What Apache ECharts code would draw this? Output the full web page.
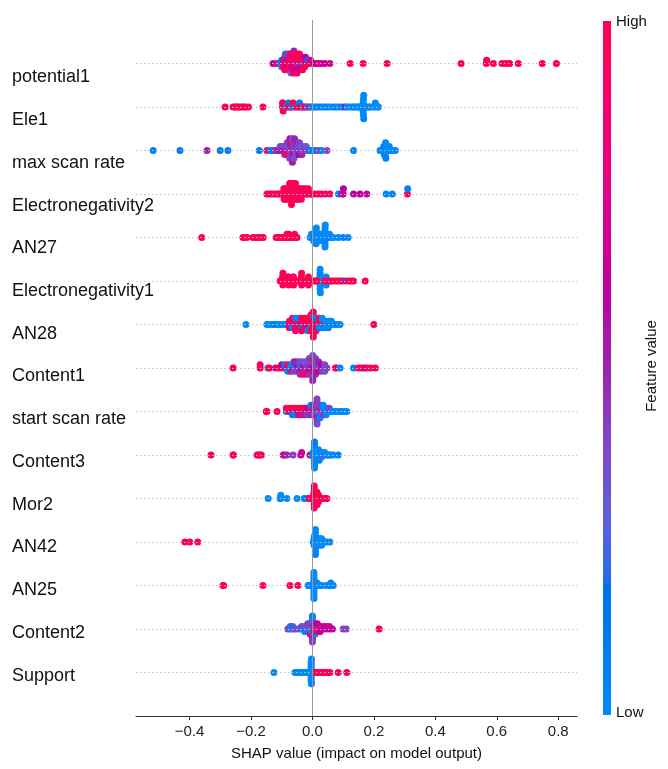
<!DOCTYPE html>
<html>
<head>
<meta charset="utf-8">
<script src="https://cdn.jsdelivr.net/npm/echarts@6/dist/echarts.min.js"></script>
<style>
  html, body { margin: 0; padding: 0; background: #fff; }
  #chart { width: 668px; height: 769px; }
</style>
</head>
<body>
<div id="chart"></div>
<script>
// Feature names, most important first
const featureNames = ['potential1', 'Ele1', 'max scan rate', 'Electronegativity2', 'AN27',
  'Electronegativity1', 'AN28', 'Content1', 'start scan rate', 'Content3', 'Mor2', 'AN42',
  'AN25', 'Content2', 'Support'];

// x-axis tick values
const tickValues = [-0.4, -0.2, 0.0, 0.2, 0.4, 0.6, 0.8];

// Per-feature samples: [SHAP value, normalised feature value]
const potential1 = [
  [-0.128,0.6],[-0.115,0.8],[-0.105,0.05],[-0.104,0],[-0.1,0.1],[-0.1,0.3],
  [-0.095,0.9],[-0.095,0.7],[-0.093,1],[-0.09,0.5],[-0.09,0.95],[-0.088,0.2],
  [-0.085,1],[-0.084,0.8],[-0.083,0.6],[-0.082,1],[-0.08,0.9],[-0.079,0.4],
  [-0.077,1],[-0.076,0.7],[-0.075,0.95],[-0.074,0.5],[-0.073,1],[-0.072,0.85],
  [-0.07,0.3],[-0.068,1],[-0.067,0.9],[-0.066,0.6],[-0.065,1],[-0.064,0.75],
  [-0.062,1],[-0.061,0.95],[-0.06,0.5],[-0.058,1],[-0.057,0.8],[-0.056,0.9],
  [-0.055,1],[-0.053,0.65],[-0.052,1],[-0.05,0.9],[-0.049,0.4],[-0.048,1],
  [-0.046,0.85],[-0.045,1],[-0.043,0.7],[-0.042,0.95],[-0.04,0.1],[-0.038,1],
  [-0.036,0.6],[-0.034,0.9],[-0.032,1],[-0.03,0.45],[-0.028,0.8],[-0.025,1],
  [-0.022,0.6],[-0.018,0.9],[-0.014,0.15],[-0.01,1],[-0.006,0.7],
  [0.003,0.7],[0.012,0.6],[0.02,0.8],[0.028,0.7],[0.04,0.65],[0.057,0.7],
  [0.123,1],[0.165,1],[0.243,1],[0.484,1],[0.566,1],[0.567,1],[0.589,1],
  [0.617,1],[0.63,1],[0.642,1],[0.67,1],[0.748,1],[0.794,1]
];
const ele1 = [
  [-0.284,1],[-0.258,1],[-0.252,1],[-0.247,0.95],[-0.242,1],[-0.236,1],[-0.23,0.9],
  [-0.224,1],[-0.218,1],[-0.208,1],[-0.161,1],
  [-0.097,1],[-0.097,1],[-0.096,0.9],[-0.096,1],[-0.095,1],
  [-0.085,0.05],[-0.08,1],[-0.077,0.1],[-0.073,1],[-0.07,0.9],[-0.066,0],[-0.063,1],
  [-0.058,1],[-0.055,0.05],[-0.05,1],[-0.046,0.95],[-0.042,0.1],[-0.038,1],[-0.033,1],
  [-0.03,0],[-0.025,1],[-0.02,0.9],[-0.015,0.05],[-0.01,1],[-0.005,0.1],
  [0.003,0],[0.01,0.05],[0.017,0],[0.025,0.1],[0.033,0],[0.04,0],[0.048,0.05],[0.055,0],
  [0.065,0],[0.073,0.1],[0.08,0],[0.09,0],[0.098,0.05],[0.107,0.6],[0.112,0],[0.12,0],
  [0.128,0],[0.134,0.05],
  [0.14,0],[0.145,0],[0.15,0],[0.155,0.05],[0.16,0],[0.164,0],[0.165,0],[0.165,0.05],
  [0.166,0],[0.166,0],[0.167,0],[0.167,0.05],[0.175,0],[0.18,0],[0.185,0.05],[0.19,0],
  [0.2,0],[0.205,0],[0.205,0],[0.212,0],[0.215,0]
];
const maxScanRate = [
  [-0.518,0.05],[-0.431,0.1],[-0.343,0.5],[-0.3,0.1],[-0.275,0.1],[-0.173,0.1],
  [-0.148,0.95],[-0.137,0.1],[-0.128,0.2],[-0.121,0.45],
  [-0.115,0.4],[-0.11,0.6],[-0.105,0.35],[-0.1,0.5],[-0.098,0.4],[-0.095,0.7],
  [-0.092,0.35],[-0.09,0.45],[-0.088,0.55],[-0.085,0.4],[-0.083,0.95],[-0.082,0.4],
  [-0.08,0.5],[-0.078,0.35],[-0.077,1],[-0.076,0.45],[-0.074,0.4],[-0.073,0.6],
  [-0.072,0.35],[-0.07,0.5],[-0.069,0.4],[-0.068,0.9],[-0.067,0.45],[-0.066,0.35],
  [-0.065,0.55],[-0.064,0.4],[-0.063,0.45],[-0.062,0.65],[-0.061,0.4],[-0.06,0.35],
  [-0.058,0.5],[-0.056,0.4],[-0.054,0.45],[-0.052,0.3],[-0.05,0.5],[-0.048,0.4],
  [-0.046,0.35],[-0.044,0.6],[-0.042,0.4],[-0.04,0.45],[-0.037,0.3],[-0.034,0.5],
  [-0.031,0.4],[-0.028,0.35],[-0.024,0.45],[-0.02,0.3],[-0.016,0.4],
  [-0.008,0.1],[0,0.05],[0.01,0.1],[0.02,0.4],[0.03,0.05],[0.047,0.4],[0.134,0.05],
  [0.22,0.05],[0.228,0],[0.232,0.05],[0.234,0],[0.235,0],[0.236,0.05],[0.237,0],
  [0.238,0],[0.239,0.05],[0.245,0],[0.25,0],[0.255,0.05],[0.262,0],[0.27,0]
];
const electronegativity2 = [
  [-0.148,1],[-0.14,0.95],[-0.132,1],[-0.124,1],[-0.116,0.9],[-0.11,1],[-0.104,1],[-0.099,0.95],
  [-0.094,1],[-0.093,1],[-0.092,0.9],[-0.089,1],[-0.088,1],[-0.087,0.95],[-0.084,1],[-0.083,1],
  [-0.082,1],[-0.08,0.9],[-0.078,1],[-0.077,1],[-0.076,1],[-0.075,0.95],[-0.074,1],[-0.072,1],
  [-0.071,0.9],[-0.07,1],[-0.069,1],[-0.068,1],[-0.066,1],[-0.066,0.95],[-0.065,1],[-0.064,1],
  [-0.063,1],[-0.062,0.9],[-0.061,1],[-0.06,1],[-0.058,1],[-0.057,1],[-0.056,0.95],[-0.055,1],
  [-0.053,1],[-0.052,1],[-0.05,0.9],[-0.049,1],[-0.047,1],[-0.045,1],[-0.044,0.95],[-0.042,1],
  [-0.04,1],[-0.038,1],[-0.036,0.9],[-0.034,1],[-0.031,1],[-0.028,1],[-0.026,0.95],[-0.023,1],
  [-0.02,1],[-0.017,1],[-0.013,0.9],[-0.009,1],[-0.005,1],[-0.002,1],
  [0.008,1],[0.018,1],[0.03,1],[0.043,0.9],[0.057,1],[0.085,0.05],[0.097,0.6],[0.1,0.65],
  [0.101,0.6],[0.134,0.6],[0.155,0.6],[0.177,0.65],[0.24,0.05],[0.26,0.05],[0.309,1],[0.31,0.05]
];
const an27 = [
  [-0.36,1],[-0.226,1],[-0.22,1],[-0.213,0.95],[-0.193,1],[-0.186,1],[-0.178,1],[-0.17,0.9],[-0.16,1],
  [-0.118,1],[-0.112,1],[-0.107,1],[-0.102,0.95],[-0.098,1],[-0.094,1],[-0.09,1],[-0.086,0.9],
  [-0.083,1],[-0.08,1],[-0.077,1],[-0.074,1],[-0.07,0.95],[-0.066,1],[-0.062,1],[-0.058,1],
  [-0.054,0.9],[-0.05,1],
  [-0.007,0.05],[-0.005,0],[-0.003,0],[0,0.05],[0.002,0],[0.004,0],[0.006,0.1],[0.008,0],
  [0.011,0],[0.012,0],[0.012,0.05],[0.012,0],[0.012,0],[0.013,0],[0.015,0],[0.017,0],[0.019,0.05],
  [0.02,0],[0.022,0],[0.024,0],[0.026,0],[0.028,0.1],[0.03,0],[0.032,0],[0.034,0],[0.036,0],
  [0.038,0.05],[0.04,0],[0.041,0],[0.041,0],[0.041,0.05],[0.041,0],[0.041,0],[0.042,0],[0.046,0],
  [0.048,0],[0.05,0],[0.053,0.05],[0.056,0],[0.06,0],[0.064,0.05],[0.068,0],[0.084,0],[0.1,0.05],[0.116,0]
];
const electronegativity1 = [
  [-0.105,1],[-0.097,1],[-0.097,1],[-0.096,0.95],[-0.096,1],[-0.095,1],[-0.088,1],
  [-0.079,1],[-0.079,1],[-0.078,0.9],[-0.078,1],[-0.077,1],[-0.07,0.95],
  [-0.063,1],[-0.063,1],[-0.062,1],[-0.062,0.95],[-0.061,1],[-0.05,1],[-0.045,1],
  [-0.036,1],[-0.036,1],[-0.035,0.9],[-0.035,1],[-0.034,1],[-0.025,1],
  [-0.014,1],[-0.013,1],[-0.013,0.95],[-0.012,1],
  [0.018,0],[0.022,0.05],[0.024,0],[0.024,0],[0.025,0],[0.025,0.1],[0.025,0],[0.025,0],[0.026,0],
  [0.03,0.05],[0.035,0],[0.044,0],[0.045,0],[0.045,0],[0.046,0.05],
  [0.004,1],[0.01,0.9],[0.015,1],[0.04,0.9],[0.052,1],[0.06,1],[0.066,0.95],[0.075,1],
  [0.082,1],[0.09,0.9],[0.097,1],[0.107,0.5],[0.118,1],[0.126,1],[0.134,1],[0.172,1]
];
const an28 = [
  [-0.216,0],[-0.148,0.05],[-0.14,0],[-0.13,0],[-0.12,0.1],[-0.112,0],[-0.104,0],[-0.095,0.05],
  [-0.088,0],[-0.083,0],
  [-0.075,1],[-0.075,0.9],[-0.075,1],
  [-0.065,1],[-0.065,0.95],[-0.065,0.05],[-0.065,1],
  [-0.055,1],[-0.055,0.9],[-0.055,1],[-0.055,0.05],[-0.055,0.85],
  [-0.045,0.05],[-0.045,1],[-0.045,0.9],[-0.045,0],
  [-0.035,1],[-0.035,0.85],[-0.035,0.1],[-0.035,1],[-0.035,1],
  [-0.025,0.1],[-0.025,1],[-0.025,0.9],[-0.025,1],
  [-0.015,0],[-0.015,1],[-0.015,1],[-0.015,0.95],[-0.015,0.05],
  [-0.005,1],[-0.005,0.9],[-0.005,0.05],[-0.005,1],[-0.005,1],[-0.005,0.95],
  [0.003,1],[0.003,0.9],[0.003,1],[0.003,0.95],[0.003,1],[0.003,0],[0.003,1],[0.003,1],[0.003,0.9],
  [0.012,1],[0.012,0.8],[0.012,1],[0.012,0.05],[0.012,1],
  [0.022,0],[0.022,1],[0.022,0.1],[0.022,0.95],
  [0.032,0],[0.032,1],[0.032,0.05],[0.032,0],
  [0.042,0.1],[0.042,0],[0.042,0],
  [0.052,1],[0.052,0],[0.052,0.05],
  [0.062,0.05],[0.062,0],[0.072,0],[0.082,0.1],[0.09,0],[0.2,1]
];
const content1 = [
  [-0.258,1],[-0.17,1],[-0.17,0.95],[-0.145,0.05],[-0.14,1],[-0.12,0.7],[-0.11,1],
  [-0.1,0.9],[-0.1,0.6],[-0.09,1],[-0.09,0.1],
  [-0.08,0.6],[-0.08,1],[-0.08,0.05],
  [-0.07,0.4],[-0.07,0.05],[-0.07,0.5],
  [-0.06,0.6],[-0.06,0.05],[-0.06,0.4],[-0.06,0.5],
  [-0.05,0.05],[-0.05,0.6],[-0.05,0.4],[-0.05,0.5],
  [-0.04,0.4],[-0.04,0.05],[-0.04,0.6],[-0.04,0.35],[-0.04,0.45],
  [-0.03,0.4],[-0.03,0.6],[-0.03,0.5],[-0.03,0.35],[-0.03,0.9],
  [-0.02,0.5],[-0.02,0.4],[-0.02,0.45],[-0.02,0.35],[-0.02,1],
  [-0.01,0.4],[-0.01,0.5],[-0.01,0.6],[-0.01,0.35],[-0.01,0.45],[-0.01,0.4],
  [0.001,0.45],[0.001,0.6],[0.001,1],[0.001,0.4],[0.001,0.5],[0.001,0.9],[0.001,0.4],[0.001,0.35],[0.001,0.5],
  [0.01,0.6],[0.01,0.4],[0.01,0.45],[0.01,0.35],[0.01,0.5],[0.01,0.4],
  [0.02,0.35],[0.02,0.4],[0.02,0.6],[0.02,0.5],
  [0.03,0.4],[0.03,0.6],[0.03,0.45],
  [0.04,0.45],[0.04,0.4],[0.04,0.35],[0.047,0.4],
  [0.075,1],[0.078,0.9],[0.09,0.05],[0.134,0.05],[0.15,1],[0.158,0.9],[0.165,1],[0.172,0.6],
  [0.18,1],[0.19,1],[0.205,1]
];
const startScanRate = [
  [-0.15,1],[-0.148,1],[-0.115,1],
  [-0.085,0.05],[-0.085,1],[-0.075,1],[-0.075,0.9],
  [-0.065,0.6],[-0.065,1],[-0.065,0.1],
  [-0.055,1],[-0.055,0.95],[-0.055,0.05],
  [-0.045,0.6],[-0.045,1],[-0.045,0.8],
  [-0.035,0.05],[-0.035,1],[-0.035,0.9],
  [-0.025,0.7],[-0.025,1],[-0.025,0.5],
  [-0.015,1],[-0.015,0.6],[-0.015,0.4],
  [-0.005,0.4],[-0.005,1],[-0.005,0.5],[-0.005,0.05],
  [0.005,0.4],[0.005,0.45],[0.005,0.35],[0.005,0.5],
  [0.015,0.4],[0.015,0.45],[0.015,0.35],[0.015,0.4],[0.015,0.5],[0.015,0.4],[0.015,0.45],[0.015,0.4],[0.015,0.35],
  [0.025,0.4],[0.025,0.5],[0.025,0.35],[0.025,0.45],[0.025,0.05],
  [0.035,0.4],[0.035,0.05],[0.035,0.45],[0.035,0],
  [0.045,0.5],[0.045,0.05],[0.045,0],
  [0.055,0.05],[0.055,0.4],
  [0.065,0],[0.075,0.05],[0.085,0],[0.095,0.05],[0.105,0],[0.112,0]
];
const content3 = [
  [-0.33,1],[-0.258,1],[-0.257,1],[-0.18,0.8],[-0.176,0.7],[-0.172,0.9],[-0.166,1],[-0.095,0.7],
  [-0.091,0.6],[-0.083,0.5],[-0.063,0.4],[-0.038,0.65],[-0.035,0.7],[-0.008,1],[-0.004,0.6],
  [0,0.05],[0.002,0],[0.004,0],[0.005,0.1],[0.006,0],
  [0.007,0],[0.007,0],[0.007,0.05],[0.007,0],[0.007,0],[0.007,0],[0.007,0.1],[0.007,0],
  [0.008,0.05],[0.009,0],[0.01,0],[0.012,0],[0.014,0.05],[0.016,0],[0.018,0],
  [0.02,0],[0.02,0],[0.02,0.05],[0.02,0],[0.022,0.1],[0.024,0],[0.026,0],[0.028,0],
  [0.03,0.05],[0.032,0],[0.035,0],[0.038,0.4],[0.04,0],[0.044,0],[0.048,0.05],[0.052,0],[0.056,0],
  [0.06,0],[0.068,0],[0.084,0.05]
];
const mor2 = [
  [-0.144,0],[-0.105,0],[-0.104,0.05],[-0.103,0],[-0.083,0],[-0.05,0],[-0.027,0.05],[-0.016,0.1],
  [-0.012,0.05],
  [-0.01,1],[-0.007,0.9],[-0.005,1],[-0.003,1],[-0.001,0.95],[0.001,1],[0.003,1],[0.004,0.9],
  [0.006,1],[0.006,1],[0.006,0.95],[0.006,1],[0.006,1],[0.006,1],[0.006,0.9],[0.006,1],
  [0.009,1],[0.01,1],[0.01,0.9],[0.011,1],[0.012,0.9],[0.013,1],
  [0.015,1],[0.015,1],[0.015,0.95],[0.015,1],[0.015,1],[0.018,0.95],[0.02,1],[0.02,1],
  [0.02,0.9],[0.022,1],[0.024,1],[0.026,0.9],[0.028,1],[0.03,1],[0.032,1],[0.034,0.95],[0.036,1],
  [0.038,1],[0.04,1],[0.043,1],[0.047,1]
];
const an42 = [
  [-0.415,1],[-0.399,1],[-0.373,1],
  [0.003,0],[0.005,0],[0.006,0.05],[0.007,0],
  [0.01,0],[0.01,0],[0.01,0.05],[0.01,0],[0.01,0],[0.01,0],[0.01,0],[0.01,0],[0.01,0.05],
  [0.013,0],[0.015,0],[0.017,0],[0.02,0.05],[0.02,0],[0.023,0],[0.026,0],[0.03,0],[0.03,0],
  [0.03,0],[0.035,0],[0.04,0.05],[0.047,0],[0.057,0]
];
const an25 = [
  [-0.291,1],[-0.289,1],[-0.161,1],[-0.073,1],[-0.047,1],
  [-0.014,0],[-0.01,0.05],[-0.006,0],[-0.003,0],[0,0],[0.002,0.05],[0.003,0],
  [0.005,0],[0.005,0],[0.005,0],[0.005,0.05],[0.005,0],[0.005,0],[0.005,0],[0.005,0],[0.005,0],
  [0.007,0.05],[0.008,0],[0.01,0],[0.012,0],[0.015,0],[0.015,0],[0.018,0.05],[0.022,0],
  [0.026,0],[0.03,0],[0.045,0],[0.055,0],[0.06,0.05],[0.06,0],[0.068,0]
];
const content2 = [
  [-0.08,0.4],[-0.072,0.05],[-0.072,0.35],[-0.064,0.3],[-0.064,0.1],[-0.055,0.4],[-0.045,0.35],
  [-0.035,0.05],[-0.035,0.4],
  [-0.025,0.1],[-0.025,0.35],[-0.025,0.05],
  [-0.015,0.4],[-0.015,0.05],[-0.015,0.3],[-0.015,0.45],
  [-0.007,0.1],[-0.007,0.4],[-0.007,0.05],[-0.007,0.35],[-0.007,0.5],
  [0.0,0.9],[0.0,0.35],[0.0,0.05],[0.0,1],[0.0,0.4],[0.0,0.1],[0.0,0.95],[0.0,0.3],[0.0,0.5],
  [0.0,0.05],[0.0,0.4],
  [0.008,1],[0.008,0.35],[0.008,0.95],[0.008,0.5],[0.008,0.05],
  [0.016,1],[0.016,0.4],[0.016,0.9],[0.016,0.6],
  [0.025,1],[0.025,0.7],[0.025,0.6],
  [0.035,0.6],[0.035,0.65],[0.045,0.7],[0.045,0.6],[0.055,0.65],[0.055,0.7],[0.065,0.6],
  [0.1,0.4],[0.11,0.4],[0.217,1]
];
const support = [
  [-0.125,0],[-0.057,0],[-0.05,0.05],[-0.045,0],[-0.04,0],[-0.035,0.05],[-0.03,0],[-0.025,0],
  [-0.02,0],[-0.016,0.05],[-0.013,0],[-0.011,0],[-0.009,0],
  [-0.006,0],[-0.005,0],[-0.005,0.05],[-0.004,0],[-0.004,0],[-0.004,0],[-0.004,0.05],[-0.004,0],
  [-0.004,0],[-0.004,0],[-0.004,0],[-0.003,0.05],[-0.003,0],[-0.002,0],[-0.002,0],
  [0.01,1],[0.014,1],[0.018,0.95],[0.022,1],[0.026,1],[0.03,0.9],[0.035,1],[0.04,1],[0.046,1],
  [0.052,1],[0.057,1],[0.084,1],[0.112,1]
];

const rows = [potential1, ele1, maxScanRate, electronegativity2, an27, electronegativity1, an28,
  content1, startScanRate, content3, mor2, an42, an25, content2, support];

// Red-blue colormap interpolated in LCH space (blue -> purple -> red)
function lab2rgb(L, a, b) {
  const fy = (L + 16) / 116, fx = fy + a / 500, fz = fy - b / 200;
  const f = t => t > 0.206893 ? t * t * t : (t - 16 / 116) / 7.787;
  const X = 0.95047 * f(fx), Y = f(fy), Z = 1.08883 * f(fz);
  const r = 3.24048134 * X - 1.53715152 * Y - 0.49853633 * Z;
  const g = -0.96925495 * X + 1.87599 * Y + 0.04155593 * Z;
  const bl = 0.05564664 * X - 0.20404134 * Y + 1.05731107 * Z;
  const gc = v => {
    v = v > 0.0031308 ? 1.055 * Math.pow(v, 1 / 2.4) - 0.055 : 12.92 * v;
    return Math.round(Math.min(1, Math.max(0, v)) * 255);
  };
  return 'rgb(' + gc(r) + ',' + gc(g) + ',' + gc(bl) + ')';
}
function buildColormap(n) {
  const blue = [54, 70, 4.6588], red = [54, 90, 0.35470565 + 2 * Math.PI], lMid = 40;
  const out = [];
  const half = n / 2;
  for (let i = 0; i < n; i++) {
    const L = i < half ? blue[0] + (lMid - blue[0]) * i / (half - 1)
                       : lMid + (red[0] - lMid) * (i - half) / (half - 1);
    const t = i / (n - 1);
    const c = blue[1] + (red[1] - blue[1]) * t;
    const h = blue[2] + (red[2] - blue[2]) * t;
    out.push(lab2rgb(L, c * Math.cos(h), c * Math.sin(h)));
  }
  return out;
}
const cmap = buildColormap(100);

// Beeswarm vertical offsets: bin the values and alternate layers up/down in each bin
function beeswarm(vals) {
  const mn = Math.min(...vals), mx = Math.max(...vals), nbins = 100;
  const quant = vals.map(v => Math.round(nbins * (v - mn) / (mx - mn + 1e-8)));
  const order = vals.map((_, i) => i).sort((a, b) => quant[a] - quant[b] || a - b);
  const ys = new Array(vals.length).fill(0);
  let layer = 0, last = -1;
  for (const idx of order) {
    if (quant[idx] !== last) layer = 0;
    ys[idx] = Math.ceil(layer / 2) * ((layer % 2) * 2 - 1);
    layer++;
    last = quant[idx];
  }
  const m = Math.max(...ys.map(y => y + 1));
  return ys.map(y => y * 0.9 * (0.4 / m));
}

const nRows = rows.length;
const points = [];
rows.forEach((row, i) => {
  const pos = nRows - 1 - i;
  const offs = beeswarm(row.map(p => p[0]));
  row.forEach((p, j) => points.push([p[0], pos + offs[j], p[1]]));
});

const FONT = '"Liberation Sans", Arial, sans-serif';
const chart = echarts.init(document.getElementById('chart'), null, { renderer: 'canvas' });

const rowLines = [];
for (let k = 0; k < nRows; k++) {
  rowLines.push({ yAxis: k, lineStyle: { color: '#c4c4c4', width: 1, type: [1.5, 2.5] } });
}

chart.setOption({
  animation: false,
  backgroundColor: '#ffffff',
  textStyle: { fontFamily: FONT },
  grid: [
    { left: 136, right: 91, top: 20, bottom: 53 },
    { left: 136, right: 91, top: 56, bottom: 72 }
  ],
  xAxis: [
    {
      gridIndex: 0, type: 'value', min: -0.574, max: 0.861,
      axisLine: { show: true, onZero: false, lineStyle: { color: '#333', width: 1 } },
      axisTick: { show: true, customValues: tickValues, length: 4, lineStyle: { color: '#333' } },
      axisLabel: {
        customValues: tickValues, fontSize: 15, color: '#222', margin: 8, fontFamily: FONT,
        formatter: v => (v < 0 ? '\u2212' : '') + Math.abs(v).toFixed(1)
      },
      splitLine: { show: false },
      name: 'SHAP value (impact on model output)', nameLocation: 'middle', nameGap: 30,
      nameTextStyle: { fontSize: 15, color: '#111', fontFamily: FONT }
    },
    { gridIndex: 1, type: 'value', min: 0, max: 1, show: false }
  ],
  yAxis: [
    { gridIndex: 0, type: 'value', min: -1, max: nRows, show: false },
    {
      gridIndex: 1, type: 'category', data: featureNames, inverse: true,
      axisLine: { show: false }, axisTick: { show: false }, splitLine: { show: false },
      axisLabel: { align: 'left', margin: 124, fontSize: 18, color: '#111', fontFamily: FONT }
    }
  ],
  visualMap: {
    show: false, type: 'continuous', min: 0, max: 1, dimension: 2, seriesIndex: 1,
    inRange: { color: cmap }
  },
  series: [
    {
      type: 'scatter', xAxisIndex: 0, yAxisIndex: 0, data: [], z: 1, silent: true,
      markLine: {
        silent: true, symbol: 'none', label: { show: false },
        data: rowLines.concat([{ xAxis: 0, lineStyle: { color: '#999', width: 1, type: 'solid' } }])
      }
    },
    {
      type: 'scatter', xAxisIndex: 0, yAxisIndex: 0, data: points, z: 2,
      symbolSize: 7, itemStyle: { opacity: 1 }
    }
  ],
  graphic: [
    {
      type: 'rect', left: 603, top: 21, shape: { width: 8, height: 694 },
      style: {
        fill: new echarts.graphic.LinearGradient(0, 1, 0, 0,
          cmap.map((c, i) => ({ offset: i / (cmap.length - 1), color: c })))
      }
    },
    { type: 'text', x: 616, y: 22, style: { text: 'High', font: '15px ' + FONT, fill: '#111', verticalAlign: 'middle' } },
    { type: 'text', x: 616, y: 713, style: { text: 'Low', font: '15px ' + FONT, fill: '#111', verticalAlign: 'middle' } },
    {
      type: 'text', x: 652, y: 366, rotation: Math.PI / 2,
      style: { text: 'Feature value', font: '15px ' + FONT, fill: '#111', align: 'center', verticalAlign: 'middle' }
    }
  ]
});
</script>
</body>
</html>
